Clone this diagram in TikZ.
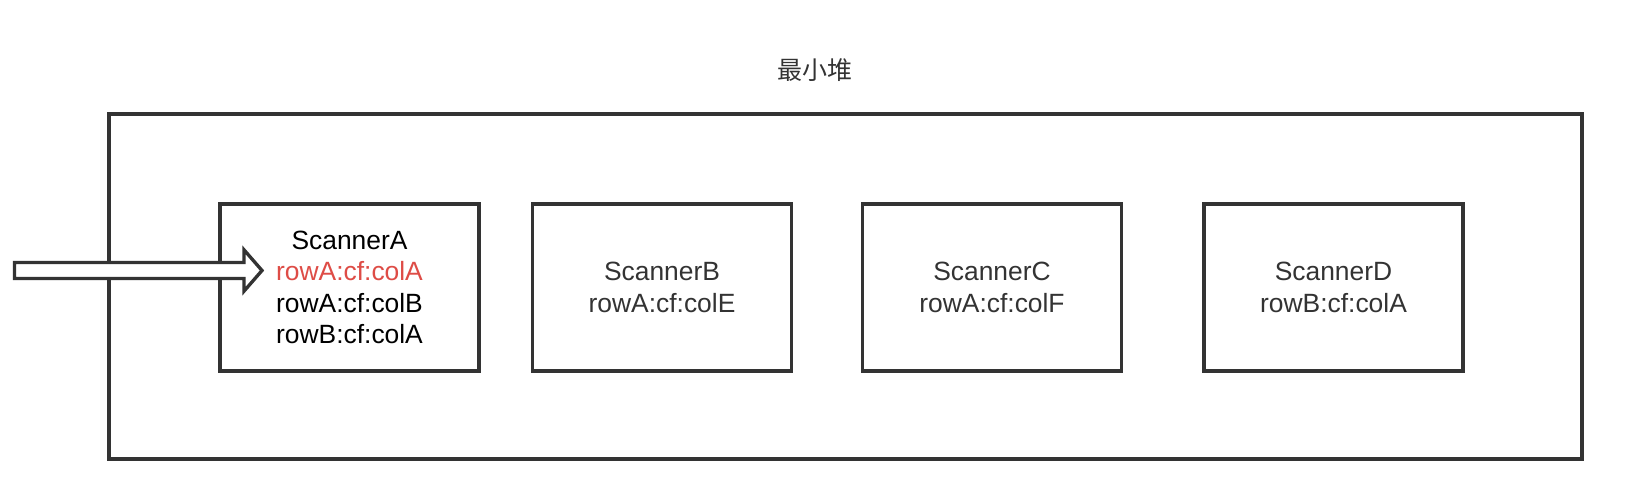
\documentclass[tikz,border=0pt]{standalone}
\usepackage{fontspec}
\setmainfont{Liberation Sans}
\newfontfamily\cjk{Noto Sans CJK SC}
\definecolor{linegray}{HTML}{333333}
\definecolor{textgray}{HTML}{333333}
\definecolor{hotred}{RGB}{222,76,70}
\begin{document}
\begin{tikzpicture}[x=0.75pt,y=-0.75pt,
  heap/.style={draw=linegray,line width=2.5pt,minimum width=1104.75pt,minimum height=258.75pt,inner sep=0pt},
  scanbox/.style={draw=linegray,line width=2.5pt,fill=white,minimum width=194.25pt,minimum height=125.25pt,inner sep=0pt,align=center,
    font=\fontsize{19.8pt}{23.4pt}\selectfont,text=textgray},
  pointer/.style={draw=linegray,line width=2.5pt,fill=white,line join=miter},
  title/.style={font=\cjk\fontsize{18.75pt}{22pt}\selectfont,text=textgray}]
\useasboundingbox (0,0) rectangle (1626,498);
\node[title] (ttl) at (815,70) {最小堆};
\node[heap] (heapbox) at (845.5,286.5) {};
\node[scanbox,text=black] (sa) at (349.5,287.5) {ScannerA\\\textcolor{hotred}{rowA:cf:colA}\\rowA:cf:colB\\rowB:cf:colA};
\node[scanbox] (sb) at (662,287.5) {ScannerB\\rowA:cf:colE};
\node[scanbox] (sc) at (992,287.5) {ScannerC\\rowA:cf:colF};
\node[scanbox] (sd) at (1333.5,287.5) {ScannerD\\rowB:cf:colA};
\coordinate (src) at (14.5,270.5);
\coordinate (tip) at (262,270.5);
\draw[pointer] ([yshift=-6pt]src) -- ([xshift=-13.5pt,yshift=-6pt]tip) -- ([xshift=-13.5pt,yshift=-15.5pt]tip) -- (tip)
  -- ([xshift=-13.5pt,yshift=15.5pt]tip) -- ([xshift=-13.5pt,yshift=6pt]tip) -- ([yshift=6pt]src) -- cycle;
\end{tikzpicture}
\end{document}
